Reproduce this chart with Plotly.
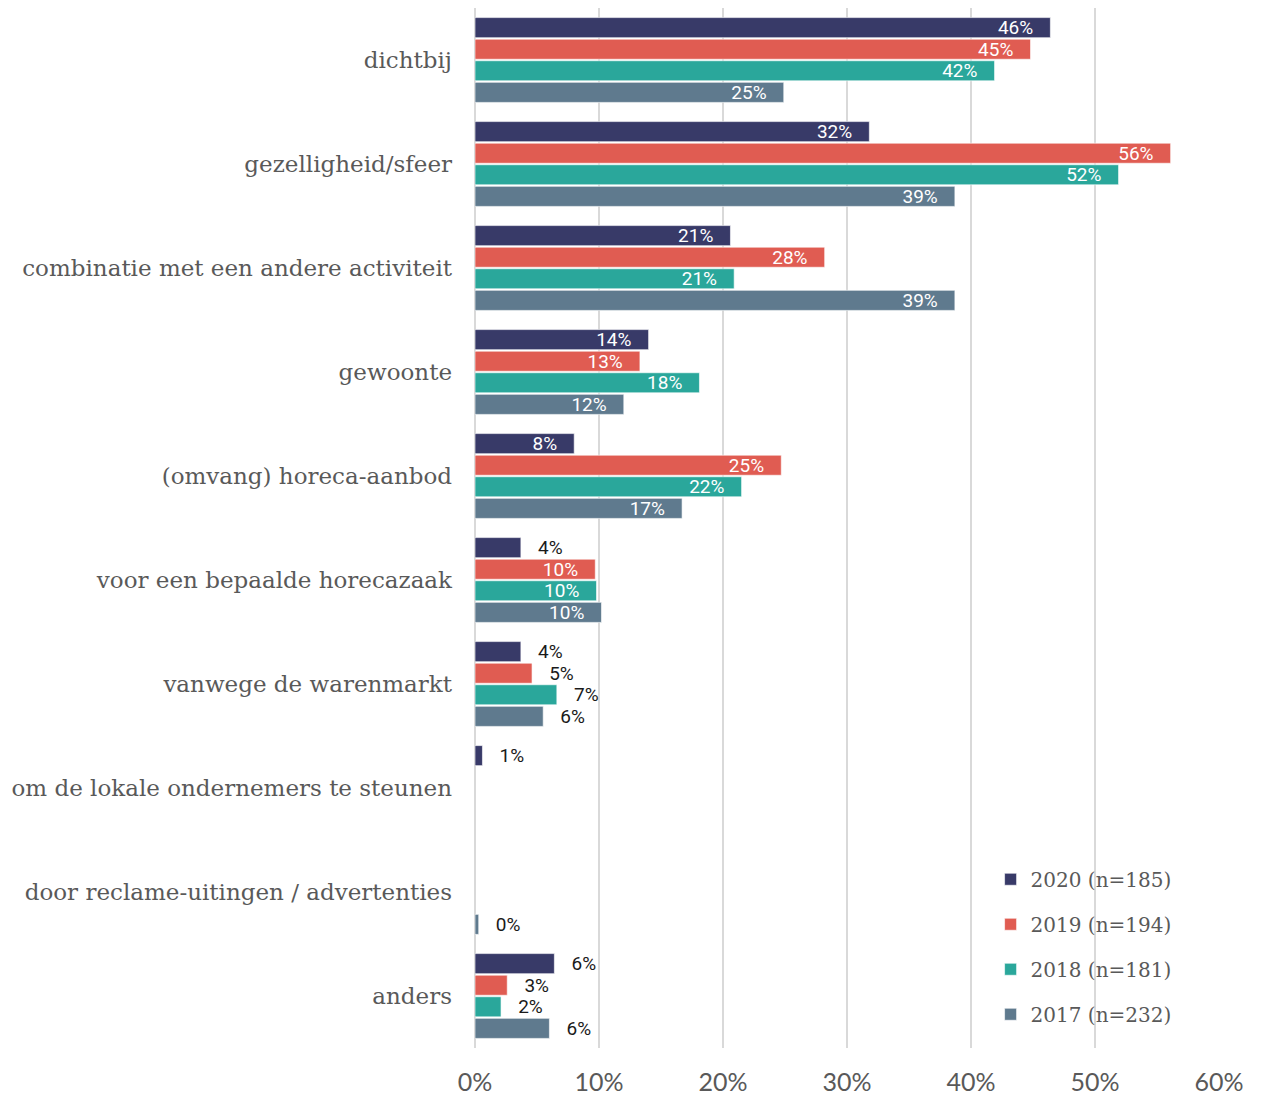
import plotly.graph_objects as go

categories = [
    "dichtbij",
    "gezelligheid/sfeer",
    "combinatie met een andere activiteit",
    "gewoonte",
    "(omvang) horeca-aanbod",
    "voor een bepaalde horecazaak",
    "vanwege de warenmarkt",
    "om de lokale ondernemers te steunen",
    "door reclame-uitingen / advertenties",
    "anders",
]

series_names = ["2020 (n=185)", "2019 (n=194)", "2018 (n=181)", "2017 (n=232)"]

v2020 = [46.4, 31.8, 20.6, 14.0, 8.0, 3.7, 3.7, 0.6, None, 6.4]
v2019 = [44.8, 56.1, 28.2, 13.3, 24.7, 9.7, 4.6, None, None, 2.6]
v2018 = [41.9, 51.9, 20.9, 18.1, 21.5, 9.8, 6.6, None, None, 2.1]
v2017 = [24.9, 38.7, 38.7, 12.0, 16.7, 10.2, 5.5, None, 0.3, 6.0]

colors = ["#383A68", "#E05C52", "#2AA79B", "#5F7A8E"]

x_ticks = [0, 10, 20, 30, 40, 50, 60]
x_ticklabels = ["0%", "10%", "20%", "30%", "40%", "50%", "60%"]

NB = "\u00a0"
fig = go.Figure()
for name, vals, col in zip(series_names, [v2020, v2019, v2018, v2017], colors):
    texts, pos = [], []
    for v in vals:
        if v is None:
            texts.append("")
            pos.append("none")
        elif v >= 8:
            texts.append(f"{round(v):.0f}%" + NB * 3)
            pos.append("inside")
        else:
            texts.append(NB * 3 + f"{round(v):.0f}%")
            pos.append("outside")
    fig.add_trace(go.Bar(
        y=categories, x=vals, orientation="h", name=name,
        marker=dict(color=col, line=dict(color="rgba(255,255,255,0.6)", width=1)),
        text=texts, textposition=pos, insidetextanchor="end",
        insidetextfont=dict(family="Roboto", size=19, color="white"),
        outsidetextfont=dict(family="Roboto", size=19, color="#1a1a1a"),
        constraintext="none", cliponaxis=False,
        legendgroup=name,
    ))

fig.update_layout(
    width=1264, height=1094,
    margin=dict(l=467, r=53, t=0, b=54),
    paper_bgcolor="white", plot_bgcolor="white",
    barmode="group", bargap=0.17, bargroupgap=0.07,
    uniformtext=dict(minsize=19, mode="show"),
    showlegend=True,
    legend=dict(
        x=0.693, y=0.181, xanchor="left", yanchor="top",
        font=dict(family="DejaVu Serif", size=20, color="#595959"),
        tracegroupgap=16, bgcolor="rgba(0,0,0,0)", itemwidth=30,
    ),
    xaxis=dict(
        range=[0, 60], tickvals=x_ticks, ticktext=x_ticklabels,
        showgrid=True, gridcolor="#d9d9d9", gridwidth=2,
        zeroline=True, zerolinecolor="#d9d9d9", zerolinewidth=2,
        showline=False, ticks="",
        tickfont=dict(family="Lato", size=25, color="#595959"),
        ticklabelstandoff=17,
    ),
    yaxis=dict(
        autorange="reversed", showgrid=False, ticks="",
        tickfont=dict(family="DejaVu Serif", size=23, color="#595959"),
        ticklabelstandoff=22,
    ),
)

fig.write_html("out.html")
